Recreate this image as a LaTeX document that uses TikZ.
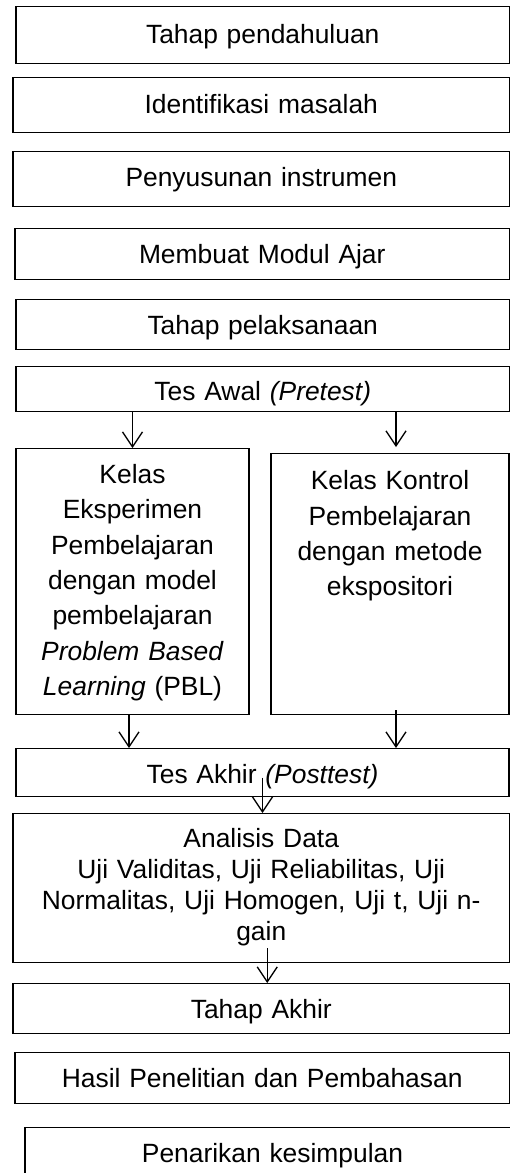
\documentclass[tikz,border=0pt]{standalone}
\usepackage{fontspec}
\setmainfont{Liberation Sans}
\usetikzlibrary{%
  arrows.meta
}
\tikzstyle{flow}=[x=1pt,y=-1pt,line width=1.3pt,>={Straight Barb[length=15pt,width=20pt]}]
\tikzstyle{stage}=[draw,rectangle,inner sep=0pt,anchor=north,align=center,font=\fontsize{26.4}{35.3}\selectfont]
\tikzstyle{dense}=[font=\fontsize{26.4}{31}\selectfont]

\begin{document}
\begin{tikzpicture}[flow]
  \useasboundingbox (0,0) rectangle (510,1173);
  % persiapan
  \node[stage,text width=493.5pt,text height=36.7pt,text depth=20.3pt] (pendahuluan) at (262.75,6) {Tahap pendahuluan};
  \node[stage,text width=496.5pt,text height=36.3pt,text depth=18.7pt] (identifikasi) at (261.25,77) {Identifikasi masalah};
  \node[stage,text width=496.5pt,text height=35pt,text depth=20pt] (instrumen) at (261.25,151) {Penyusunan instrumen};
  \node[stage,text width=494.5pt,text height=35.3pt,text depth=15.7pt] (modul) at (262.25,228) {Membuat Modul Ajar};
  % pelaksanaan
  \node[stage,text width=493.5pt,text height=35.3pt,text depth=14.7pt] (pelaksanaan) at (262.75,299) {Tahap pelaksanaan};
  \node[stage,text width=493.5pt,text height=34pt,text depth=11pt] (pretest) at (262.75,366) {Tes Awal \textit{(Pretest)}};
  \node[stage,text width=233pt,text height=35pt,text depth=231pt] (eksperimen) at (132.5,448)
    {Kelas\\Eksperimen\\Pembelajaran\\dengan model\\pembelajaran\\\textit{Problem Based}\\\textit{Learning} (PBL)};
  \node[stage,text width=238pt,text height=36.3pt,text depth=224.7pt] (kontrol) at (390,453)
    {Kelas Kontrol\\Pembelajaran\\dengan metode\\ekspositori};
  \node[stage,text width=493pt,text height=35.3pt,text depth=12.7pt] (posttest) at (262.5,748) {Tes Akhir \textit{(Posttest)}};
  \node[stage,dense,text width=496.5pt,text height=34pt,text depth=115pt] (analisis) at (261.25,813)
    {Analisis Data\\Uji Validitas, Uji Reliabilitas, Uji\\Normalitas, Uji Homogen, Uji t, Uji n-\\gain};
  % akhir
  \node[stage,text width=496.5pt,text height=35.3pt,text depth=14.7pt] (akhir) at (261.25,983) {Tahap Akhir};
  \node[stage,text width=494.5pt,text height=34.7pt,text depth=16.3pt] (hasil) at (262.25,1052) {Hasil Penelitian dan Pembahasan};
  \node[stage,text width=495pt,text height=34.7pt,text depth=28.3pt] (kesimpulan) at (272.5,1127) {Penarikan kesimpulan};
%
  \coordinate (kin) at ([xshift=6pt]kontrol.north);
  \coordinate (eout) at ([xshift=-3.5pt]eksperimen.south);
  \coordinate (kout) at ([xshift=6pt,yshift=5pt]kontrol.south);
  \coordinate (pin) at ([yshift=-5pt]posttest.center);
  \coordinate (aout) at ([xshift=6pt,yshift=15pt]analisis.south);
  \draw[->] (pretest.south -| eksperimen.north) -- (eksperimen.north);
  \draw[->] (pretest.south -| kin) -- ([yshift=6pt]kin);
  \draw[->] (eout) -- (eout |- posttest.north);
  \draw[->] (kout) -- (kout |- posttest.north);
  \draw[->] (pin) -- (pin |- analisis.north);
  \draw[->] (aout) -- (aout |- akhir.north);
\end{tikzpicture}
\end{document}
